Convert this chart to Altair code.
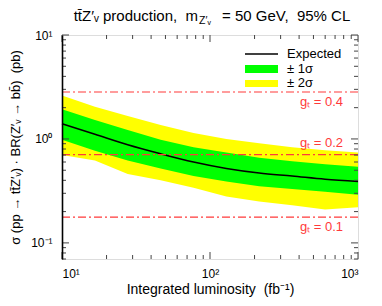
import altair as alt
import pandas as pd

# ---------------- data ----------------
lumi = [10, 16.7, 27.8, 46.4, 77.4, 129, 215, 359, 599, 1000]
expected = [1.40, 1.11, 0.88, 0.72, 0.60, 0.52, 0.47, 0.44, 0.41, 0.39]
one_sigma_hi = [1.93, 1.52, 1.22, 0.98, 0.83, 0.74, 0.66, 0.61, 0.57, 0.54]
one_sigma_lo = [0.98, 0.77, 0.62, 0.52, 0.44, 0.39, 0.35, 0.33, 0.31, 0.29]
two_sigma_hi = [2.62, 2.04, 1.66, 1.36, 1.14, 1.00, 0.91, 0.83, 0.78, 0.74]
two_sigma_lo = [0.70, 0.62, 0.46, 0.40, 0.34, 0.28, 0.25, 0.23, 0.21, 0.22]

gt_labels = ["gₜ = 0.4", "gₜ = 0.2", "gₜ = 0.1"]
gt_sigma = [2.83, 0.708, 0.177]
gt_side = ["below", "above", "below"]

legend_labels = ["Expected", "± 1σ", "± 2σ"]

x_major = [10, 100, 1000]
x_minor = [20, 30, 40, 50, 60, 70, 80, 90, 200, 300, 400, 500, 600, 700, 800, 900]
y_major = [0.1, 1, 10]
y_minor = [0.07, 0.08, 0.09, 0.2, 0.3, 0.4, 0.5, 0.6, 0.7, 0.8, 0.9,
           2, 3, 4, 5, 6, 7, 8, 9]

NB = "\u00a0"
title_left = f"tt̄Z′ᵥ production,{NB}{NB}m"
title_sub = "Z′ᵥ"
title_right = f"={NB}50{NB}GeV,{NB}{NB}95%{NB}CL"
x_title = f"Integrated luminosity{NB}{NB}(fb⁻¹)"
y_title = f"σ (pp → tt̄Z′ᵥ) · BR(Z′ᵥ → bb̄){NB}{NB}(pb)"

# ---------------- build ----------------
W, H = 296, 224
FONT = "Liberation Sans"
RED = "#ff3a3a"
TICK = "#444444"
FRAME = "#808080"

df = pd.DataFrame({
    "lumi": lumi, "expected": expected,
    "s1hi": one_sigma_hi, "s1lo": one_sigma_lo,
    "s2hi": two_sigma_hi, "s2lo": two_sigma_lo,
})
gt_df = pd.DataFrame({"label": gt_labels, "sigma": gt_sigma, "side": gt_side,
                      "x0": [lumi[0]] * 3, "x1": [lumi[-1]] * 3})

xscale = alt.Scale(type="log", domain=[10, 1000])
yscale = alt.Scale(type="log", domain=[0.07, 10])

x_label_expr = "datum.value >= 999 ? '10³' : datum.value >= 99 ? '10²' : '10¹'"
y_label_expr = "datum.value >= 9.9 ? '10¹' : datum.value >= 0.99 ? '10⁰' : '10⁻¹'"

main_x = alt.Axis(orient="bottom", values=x_major, labelExpr=x_label_expr,
                  ticks=False, grid=False, domain=False,
                  labelFontSize=12, labelPadding=9, labelColor="#000000",
                  labelFont=FONT, title=x_title, titleFontSize=14,
                  titleFontWeight="normal", titleFont=FONT, titlePadding=3,
                  titleColor="#000000")
main_y = alt.Axis(orient="left", values=y_major, labelExpr=y_label_expr,
                  ticks=False, grid=False, domain=True, domainColor="#000000",
                  domainWidth=1.6, labelFontSize=12, labelPadding=10,
                  labelColor="#000000",
                  labelFont=FONT, title=y_title, titleFontSize=13,
                  titleFontWeight="normal", titleFont=FONT, titlePadding=8,
                  titleColor="#000000", zindex=2)

yellow = alt.Chart(df).mark_area(color="#ffff00", opacity=1).encode(
    x=alt.X("lumi:Q", scale=xscale, axis=main_x),
    y=alt.Y("s2lo:Q", scale=yscale, axis=main_y),
    y2="s2hi:Q",
)
green = alt.Chart(df).mark_area(color="#00ff00", opacity=1).encode(
    x=alt.X("lumi:Q", scale=xscale),
    y=alt.Y("s1lo:Q", scale=yscale),
    y2="s1hi:Q",
)
line = alt.Chart(df).mark_line(color="#000000", strokeWidth=1.5,
                               interpolate="monotone").encode(
    x=alt.X("lumi:Q", scale=xscale),
    y=alt.Y("expected:Q", scale=yscale),
)

rules = alt.Chart(gt_df).mark_rule(color=RED, strokeWidth=1.2,
                                   strokeDash=[8, 3, 2, 3]).encode(
    x=alt.X("x0:Q", scale=xscale),
    x2="x1:Q",
    y=alt.Y("sigma:Q", scale=yscale),
)
gt_below = alt.Chart(gt_df).transform_filter("datum.side == 'below'").mark_text(
    color=RED, font=FONT, fontSize=13, align="right", baseline="middle", dy=10
).encode(x=alt.value(281), y=alt.Y("sigma:Q", scale=yscale), text="label:N")
gt_above = alt.Chart(gt_df).transform_filter("datum.side == 'above'").mark_text(
    color=RED, font=FONT, fontSize=13, align="right", baseline="middle", dy=-12
).encode(x=alt.value(281), y=alt.Y("sigma:Q", scale=yscale), text="label:N")

# inward ticks on all four sides
ydf_major = pd.DataFrame({"v": y_major})
ydf_minor = pd.DataFrame({"v": y_minor})
xdf_major = pd.DataFrame({"v": x_major})
xdf_minor = pd.DataFrame({"v": x_minor})


def yticks(d, a, b):
    return alt.Chart(d).mark_rule(color=TICK, strokeWidth=1).encode(
        y=alt.Y("v:Q", scale=yscale), x=alt.value(a), x2=alt.value(b))


def xticks(d, a, b):
    return alt.Chart(d).mark_rule(color=TICK, strokeWidth=1).encode(
        x=alt.X("v:Q", scale=xscale), y=alt.value(a), y2=alt.value(b))


tick_layers = [
    yticks(ydf_major, 0, 7), yticks(ydf_minor, 0, 4),
    yticks(ydf_major, W - 7, W), yticks(ydf_minor, W - 4, W),
    xticks(xdf_major, H - 7, H), xticks(xdf_minor, H - 4, H),
    xticks(xdf_major, 0, 7), xticks(xdf_minor, 0, 4),
]

# legend (drawn in pixel space of the plot area)
one = alt.Data(values=[{"k": 0}])
leg_line = alt.Chart(one).mark_rule(color="#000000", strokeWidth=1.5).encode(
    x=alt.value(183), x2=alt.value(216), y=alt.value(19))
leg_green = alt.Chart(one).mark_rect(color="#00ff00").encode(
    x=alt.value(183), x2=alt.value(216), y=alt.value(30), y2=alt.value(38))
leg_yellow = alt.Chart(one).mark_rect(color="#ffff00").encode(
    x=alt.value(183), x2=alt.value(216), y=alt.value(45), y2=alt.value(52))
leg_texts = [
    alt.Chart(one).mark_text(font=FONT, fontSize=13, align="left",
                             baseline="middle", color="#000000").encode(
        x=alt.value(225), y=alt.value(ypix), text=alt.value(lbl))
    for lbl, ypix in zip(legend_labels, [19, 34, 48])
]

# title pieces (rich text: subscript)
t_left = alt.Chart(one).mark_text(font=FONT, fontSize=15, align="right",
                                  baseline="middle").encode(
    x=alt.value(136), y=alt.value(-19.5), text=alt.value(title_left))
t_sub = alt.Chart(one).mark_text(font=FONT, fontSize=10.5, align="left",
                                 baseline="middle").encode(
    x=alt.value(137), y=alt.value(-14), text=alt.value(title_sub))
t_right = alt.Chart(one).mark_text(font=FONT, fontSize=15, align="left",
                                   baseline="middle").encode(
    x=alt.value(160), y=alt.value(-19.5), text=alt.value(title_right))

chart = alt.layer(
    yellow, green, line, rules, gt_below, gt_above,
    *tick_layers,
    leg_line, leg_green, leg_yellow, *leg_texts,
    t_left, t_sub, t_right,
).properties(
    width=W, height=H,
    autosize=alt.AutoSizeParams(type="none"),
    padding={"left": 54, "top": 27, "right": 16, "bottom": 39},
).configure_view(stroke=FRAME, strokeWidth=1).configure(font=FONT)

chart.save("out.html", embed_options={"renderer": "svg", "actions": False})
